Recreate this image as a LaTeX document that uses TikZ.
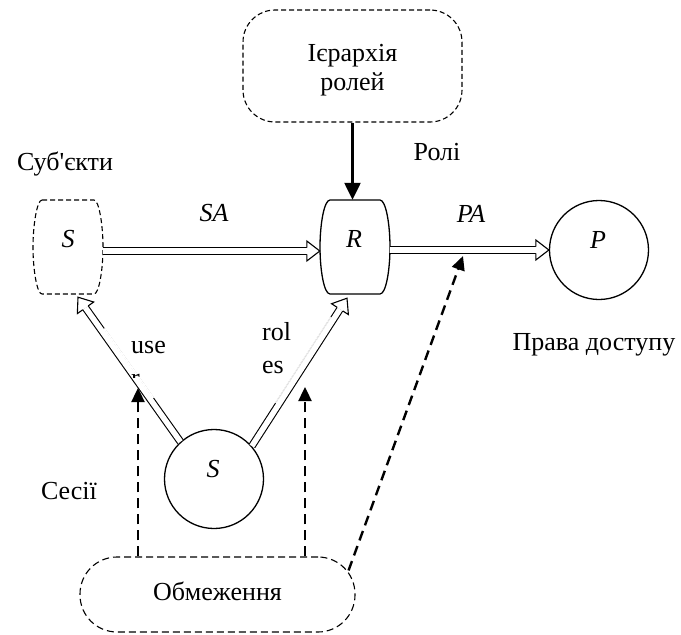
\documentclass[tikz,border=0pt]{standalone}
\usepackage{fontspec}
\setmainfont{Liberation Serif}[Ligatures=TeXOff]
\usetikzlibrary{arrows.meta,calc}
% hollow double arrow: shaft as a double line, head as an outlined chevron
\newcommand\dblarr[2]{%
  \coordinate (hb) at ($(#2)!13pt!(#1)$);
  \draw[dblline] (#1) -- (hb);
  \draw[line width=1.1pt, fill=white, line join=miter]
    ($(hb)!3.3pt!90:(#2)$) -- ($(hb)!10pt!90:(#2)$) -- (#2)
    -- ($(hb)!10pt!-90:(#2)$) -- ($(hb)!3.3pt!-90:(#2)$);
}
\begin{document}
\begin{tikzpicture}[x=1pt,y=-1pt,
  font=\fontsize{26}{30}\selectfont,
  txt/.style={inner sep=0pt, anchor=base},
  frame/.style={inner sep=0pt},
  dashbox/.style={draw, line width=1.1pt, dash pattern=on 5pt off 3pt},
  solidbox/.style={draw, line width=1.3pt},
  dblline/.style={double, double distance=5.5pt, line width=1.1pt},
  solidarrow/.style={line width=2.4pt, -{Triangle[length=17pt,width=16pt]}},
  darr/.style={line width=2.4pt, dash pattern=on 10pt off 6pt, -{Triangle[length=14pt,width=13pt]}},
  ]
\useasboundingbox (0,0) rectangle (681,635);

% Subjects (dashed barrel)
\draw[dashbox] (42,200) -- (94,200) .. controls (99,200) and (103,225) .. (103,247)
  .. controls (103,270) and (99,294) .. (94,294) -- (42,294)
  .. controls (37,294) and (33,270) .. (33,247) .. controls (33,225) and (37,200) .. (42,200) -- cycle;
\node[frame, minimum width=70pt, minimum height=94pt] (subj) at (68,247) {};
\node[txt] at (68,247) {\textit{S}};

% Roles (solid barrel)
\draw[solidbox] (330,200) -- (380,200) .. controls (386,200) and (390,225) .. (390,247)
  .. controls (390,270) and (386,294) .. (380,294) -- (330,294)
  .. controls (324,294) and (320,270) .. (320,247) .. controls (320,225) and (324,200) .. (330,200) -- cycle;
\node[frame, minimum width=70pt, minimum height=94pt] (R) at (355,247) {};
\node[txt] at (354,247) {\textit{R}};

% Permissions
\node[circle, draw, line width=1.3pt, minimum size=99pt, inner sep=0pt] (P) at (599,250) {};
\node[txt] at (598,248) {\textit{P}};

% Sessions
\node[circle, draw, line width=1.3pt, minimum size=99pt, inner sep=0pt] (ses) at (214,479) {};
\node[txt] at (213,477) {\textit{S}};

% Hierarchy
\node[dashbox, rounded corners=32pt, minimum width=219pt, minimum height=112pt, inner sep=0pt] (hier) at (352.5,66) {};
\node[txt] at (352.5,61) {Ієрархія};
\node[txt] at (352.5,90) {ролей};

% Constraints
\node[draw, line width=1.1pt, dash pattern=on 7pt off 4pt, rounded corners=37pt,
  minimum width=275pt, minimum height=75pt, inner sep=0pt] (obm) at (217.5,594.5) {};
\node[txt] at (217.5,600) {Обмеження};

% Labels
\node[txt] at (65,170) {Суб'єкти};
\node[txt] at (437,160) {Ролі};
\node[txt] at (594,350) {Права доступу};
\node[txt] at (69,499) {Сесії};
\node[txt] at (214,221) {\textit{SA}};
\node[txt] at (471,222) {\textit{PA}};

% Connectors
\draw[solidarrow] (hier.south) -- (hier.south |- R.north);

\coordinate (sa1) at ($(subj.east)+(0,4)$);
\coordinate (sa2) at ($(R.west)+(0,4)$);
\dblarr{sa1}{sa2}
\coordinate (pa1) at ($(R.east)+(0,3)$);
\dblarr{pa1}{P.west}

\coordinate (tS) at ($(subj.south)+(10,3)$);
\coordinate (tR) at ($(R.south)+(-8,4)$);
\coordinate (u1) at (ses.132);
\coordinate (v1) at (ses.41);
\dblarr{u1}{tS}
\dblarr{v1}{tR}

% parts of the double lines hidden by the label boxes
\coordinate (l1) at ($(u1)!0.29!(tS)$);
\coordinate (l2) at ($(u1)!0.77!(tS)$);
\draw[white, line width=1.8pt] ($(l1)!3.3pt!-90:(tS)$) -- ($(l2)!3.3pt!-90:(tS)$);
\coordinate (r1) at ($(v1)!0.28!(tR)$);
\coordinate (r2) at ($(v1)!0.86!(tR)$);
\draw[white, line width=1.8pt] ($(r1)!3.3pt!90:(tR)$) -- ($(r2)!3.3pt!90:(tR)$);
\draw[gray!35, line width=0.4pt] ($(r1)!3.3pt!90:(tR)$) -- ($(r2)!3.3pt!90:(tR)$);

% use / roles labels
\node[txt, anchor=base west] at (131,353) {use};
\begin{scope}
  \clip (120,360) rectangle (175,377);
  \node[txt, anchor=base west] at (131,386) {r};
\end{scope}
\node[txt, anchor=base west] at (262,340) {rol};
\node[txt, anchor=base west] at (262,373) {es};

% Constraint arrows
\coordinate (c1) at (138,388);
\coordinate (c2) at (305,387);
\coordinate (c3) at (463,256);
\draw[darr] (obm.north -| c1) -- (c1);
\draw[darr] (obm.north -| c2) -- (c2);
\draw[darr] ($(obm.north east)+(-7,14)$) -- (c3);
\end{tikzpicture}
\end{document}
